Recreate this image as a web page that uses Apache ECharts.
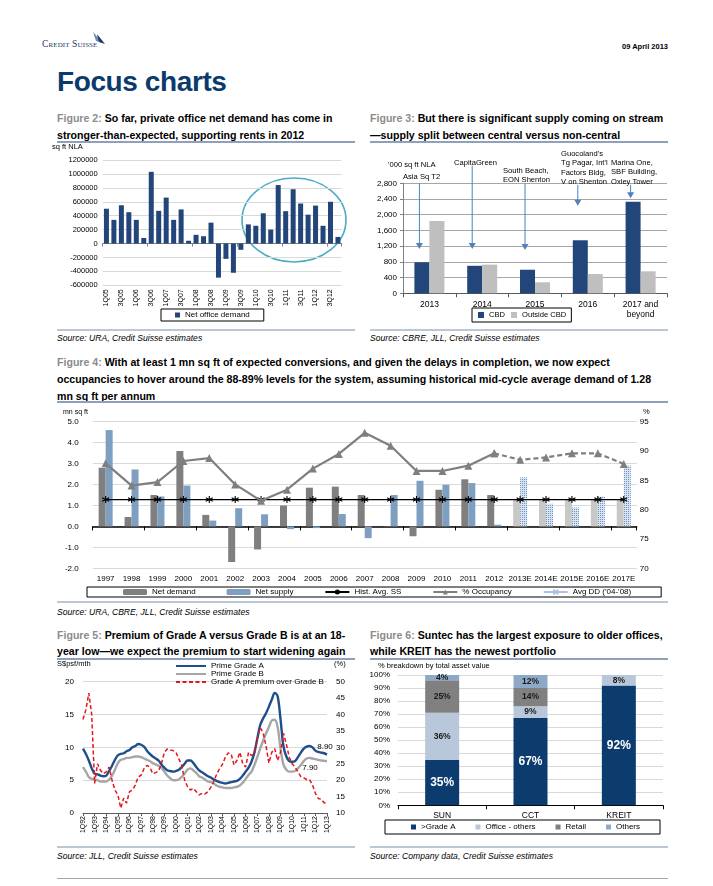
<!DOCTYPE html>
<html><head><meta charset="utf-8">
<script src="https://cdn.jsdelivr.net/npm/echarts@6/dist/echarts.min.js"></script>
<style>
html,body{margin:0;padding:0;background:#fff;}
body{width:713px;height:886px;position:relative;overflow:hidden;font-family:"Liberation Sans",Arial,sans-serif;color:#000;}
.abs{position:absolute;white-space:nowrap;}
.ftitle{position:absolute;font-weight:bold;font-size:10.6px;line-height:16.5px;color:#000;white-space:nowrap;}
.ftitle .fn{color:#8c8c8c;}
.rule{position:absolute;height:2px;background:#8da2ba;}
.sep{position:absolute;height:1.5px;background:#bcc7d4;}
.src{position:absolute;font-style:italic;font-size:8.6px;line-height:10px;white-space:nowrap;}
.chart{position:absolute;}
</style></head><body>

<div class="abs" style="left:42px;top:38px;font-family:'Liberation Serif','DejaVu Serif',serif;font-variant:small-caps;font-size:9.6px;color:#1d3a68;letter-spacing:0.1px;">Credit Suisse</div>
<svg class="abs" style="left:92px;top:32px" width="14" height="14"><polygon points="1,0 11,11 4,9" fill="#6a8db5"/><polygon points="5,2 13,12 7,10" fill="#1d3a68"/></svg>
<div class="abs" style="right:45px;top:42px;font-weight:bold;font-size:7.5px;">09 April 2013</div>
<div class="abs" style="left:57px;top:66px;font-weight:bold;font-size:28px;line-height:32px;color:#0b3a6d;letter-spacing:-0.4px;">Focus charts</div>

<div class="ftitle" style="left:57px;top:110px;"><span class="fn">Figure 2:</span> So far, private office net demand has come in<br>stronger-than-expected, supporting rents in 2012</div>
<div class="ftitle" style="left:370px;top:110px;"><span class="fn">Figure 3:</span> But there is significant supply coming on stream<br>—supply split between central versus non-central</div>
<div class="rule" style="left:57px;top:141px;width:298px;"></div>
<div class="rule" style="left:370px;top:141px;width:298px;"></div>

<div id="fig2" class="chart" style="left:50px;top:143px;width:305px;height:185px;"></div>
<div id="fig3" class="chart" style="left:365px;top:145px;width:310px;height:182px;"></div>

<div class="sep" style="left:57px;top:329px;width:298px;"></div>
<div class="sep" style="left:370px;top:329px;width:298px;"></div>
<div class="src" style="left:57px;top:333px;">Source: URA, Credit Suisse estimates</div>
<div class="src" style="left:370px;top:333px;">Source: CBRE, JLL, Credit Suisse estimates</div>

<div class="ftitle" style="left:57px;top:353.5px;line-height:17px;"><span class="fn">Figure 4:</span> With at least 1 mn sq ft of expected conversions, and given the delays in completion, we now expect<br>occupancies to hover around the 88-89% levels for the system, assuming historical mid-cycle average demand of 1.28<br>mn sq ft per annum</div>
<div class="rule" style="left:57px;top:401px;width:611px;"></div>
<div id="fig4" class="chart" style="left:50px;top:405px;width:630px;height:195px;"></div>
<div class="sep" style="left:57px;top:601px;width:611px;"></div>
<div class="src" style="left:57px;top:606.5px;">Source: URA, CBRE, JLL, Credit Suisse estimates</div>

<div class="ftitle" style="left:57px;top:628px;line-height:15.5px;"><span class="fn">Figure 5:</span> Premium of Grade A versus Grade B is at an 18-<br>year low—we expect the premium to start widening again</div>
<div class="ftitle" style="left:370px;top:628px;line-height:15.5px;"><span class="fn">Figure 6:</span> Suntec has the largest exposure to older offices,<br>while KREIT has the newest portfolio</div>
<div class="rule" style="left:57px;top:658px;width:298px;"></div>
<div class="rule" style="left:370px;top:658px;width:298px;"></div>
<div id="fig5" class="chart" style="left:50px;top:660px;width:310px;height:184px;"></div>
<div id="fig6" class="chart" style="left:365px;top:661px;width:310px;height:179px;"></div>
<div class="sep" style="left:57px;top:846px;width:298px;"></div>
<div class="sep" style="left:370px;top:846px;width:298px;"></div>
<div class="src" style="left:57px;top:851px;">Source: JLL, Credit Suisse estimates</div>
<div class="src" style="left:370px;top:851px;">Source: Company data, Credit Suisse estimates</div>
<div class="abs" style="left:57px;top:877.5px;width:611px;height:1.5px;background:#a6a6a6;"></div>

<script>
// ---------- Figure 2 data ----------
const fig2Quarters = ['1Q05','2Q05','3Q05','4Q05','1Q06','2Q06','3Q06','4Q06','1Q07','2Q07','3Q07','4Q07','1Q08','2Q08','3Q08','4Q08','1Q09','2Q09','3Q09','4Q09','1Q10','2Q10','3Q10','4Q10','1Q11','2Q11','3Q11','4Q11','1Q12','2Q12','3Q12','4Q12'];
const fig2NetDemand = [500000,340000,550000,450000,340000,80000,1030000,470000,660000,340000,490000,40000,125000,105000,300000,-490000,-220000,-420000,-90000,275000,255000,435000,200000,840000,465000,780000,575000,415000,545000,255000,600000,95000];
const fig2YTicks = {min:-600000, max:1200000, step:200000};

// ---------- Figure 3 data ----------
const fig3Years = ['2013','2014','2015','2016','2017 and\nbeyond'];
const fig3CBD = [790,700,600,1350,2330];
const fig3OutsideCBD = [1840,730,280,490,560];
const fig3Projects = ['Asia Sq T2','CapitaGreen','South Beach,\nEON Shenton',"Guocoland's\nTg Pagar, Int'l\nFactors Bldg,\nV on Shenton",'Marina One,\nSBF Building,\nOxley Tower'];
const fig3ArrowFrom = [2800,3250,2800,2760,2760];
const fig3ArrowTo = [1130,1130,1100,2230,2420];

// ---------- Figure 4 data ----------
const fig4Years = ['1997','1998','1999','2000','2001','2002','2003','2004','2005','2006','2007','2008','2009','2010','2011','2012','2013E','2014E','2015E','2016E','2017E'];
const fig4NetDemand = [2.8,0.45,1.5,3.6,0.55,-1.7,-1.1,1.0,1.85,1.9,1.5,0.02,-0.47,1.75,2.25,1.5,1.28,1.28,1.28,1.28,1.28];
const fig4NetSupply = [4.6,2.72,1.43,1.95,0.28,0.87,0.58,-0.13,-0.08,0.59,-0.56,1.5,2.18,1.99,2.07,0.08,2.34,1.08,0.9,1.43,2.9];
const fig4HistAvgSS = [1.28,1.28,1.28,1.28,1.28,1.28,1.28,1.28,1.28,1.28,1.28,1.28,1.28,1.28,1.28,1.28,1.28,1.28,1.28,1.28,1.28];
const fig4Occupancy = [87.9,84.1,84.7,88.3,88.8,84.3,81.5,83.4,87.0,89.5,93.1,90.9,86.6,86.6,87.5,89.6,88.5,88.9,89.6,89.6,87.8];

// ---------- Figure 5 data ----------
const fig5Quarters = ['1Q92','2Q92','3Q92','4Q92','1Q93','2Q93','3Q93','4Q93','1Q94','2Q94','3Q94','4Q94','1Q95','2Q95','3Q95','4Q95','1Q96','2Q96','3Q96','4Q96','1Q97','2Q97','3Q97','4Q97','1Q98','2Q98','3Q98','4Q98','1Q99','2Q99','3Q99','4Q99','1Q00','2Q00','3Q00','4Q00','1Q01','2Q01','3Q01','4Q01','1Q02','2Q02','3Q02','4Q02','1Q03','2Q03','3Q03','4Q03','1Q04','2Q04','3Q04','4Q04','1Q05','2Q05','3Q05','4Q05','1Q06','2Q06','3Q06','4Q06','1Q07','2Q07','3Q07','4Q07','1Q08','2Q08','3Q08','4Q08','1Q09','2Q09','3Q09','4Q09','1Q10','2Q10','3Q10','4Q10','1Q11','2Q11','3Q11','4Q11','1Q12','2Q12','3Q12','4Q12','1Q13'];
const fig5GradeA = [9.8,9.0,8.0,6.8,6.0,5.9,5.7,5.6,5.7,6.4, 7.2,8.1,8.8,9.0,9.1,9.4,9.6,10.0,10.2,10.5, 10.4,10.1,9.5,9.0,8.6,8.3,8.0,7.4,6.9,6.5, 6.4,6.3,6.4,6.6,7.0,7.5,8.0,8.0,7.6,7.0, 6.5,6.2,5.9,5.6,5.4,5.1,4.9,4.7,4.6,4.5, 4.6,4.7,4.8,4.9,5.2,5.7,6.3,6.9,7.8,9.2, 11.3,13.4,14.4,15.2,16.2,17.3,18.3,17.8,14.3,10.2, 8.6,7.9,7.8,7.9,8.5,9.2,9.8,10.1,10.2,10.0, 9.5,9.3,9.2,9.1,8.9];
const fig5GradeB = [7.0,6.3,5.5,5.2,5.1,5.0,4.8,4.8,4.8,5.1, 5.7,6.6,7.6,8.1,8.2,8.4,8.4,8.5,8.6,8.6, 8.5,8.3,8.1,7.9,7.6,7.4,7.2,6.9,6.3,5.7, 5.3,5.0,5.0,5.1,5.5,6.0,6.6,6.8,6.5,6.1, 5.6,5.4,5.1,4.8,4.7,4.5,4.2,4.0,3.9,3.8, 3.8,3.8,3.9,4.0,4.2,4.6,5.2,5.8,6.3,7.3, 8.5,9.8,11.0,12.1,13.1,14.1,14.2,13.1,9.8,7.4, 6.6,6.3,6.3,6.4,6.8,7.3,7.9,8.3,8.4,8.3, 8.2,8.1,8.0,7.95,7.9];
const fig5Premium = [38.5,41.5,46.5,40.0,19.0,25.0,23.0,22.0,22.5,24.0, 20.0,17.0,15.5,11.5,14.5,13.0,16.5,17.0,18.5,21.0, 21.5,23.5,24.5,24.0,22.0,22.3,22.8,25.0,28.5,29.5, 29.2,29.0,28.5,26.5,24.5,20.0,18.0,17.0,17.5,16.5, 15.5,16.0,15.8,16.5,17.8,19.5,21.8,23.5,24.8,27.0, 28.3,28.0,24.6,26.0,28.5,25.0,24.0,28.5,27.5,28.0, 32.6,36.0,34.5,30.5,25.2,28.5,29.6,26.0,28.5,34.3, 31.0,27.0,25.0,24.0,22.5,21.1,20.7,20.2,20.2,18.5, 16.0,14.4,14.2,13.1,12.8];

// ---------- Figure 6 data ----------
const fig6Trusts = ['SUN','CCT','KREIT'];
const fig6GradeA = [35,67,92];
const fig6OfficeOthers = [36,9,8];
const fig6Retail = [25,14,null];
const fig6Others = [4,12,null];

const FONT = '"Liberation Sans", Arial, sans-serif';
const txt = (size, extra) => Object.assign({fontSize:size, fontFamily:FONT, color:'#000'}, extra||{});

// ================= Figure 2 =================
const c2 = echarts.init(document.getElementById('fig2'));
c2.setOption({
  animation:false,
  grid:{left:52.7, right:13.3, top:17, bottom:42.7, outerBoundsMode:'none'},
  xAxis:[
    {type:'category', data:fig2Quarters, axisLine:{show:false,onZero:false}, axisTick:{show:false},
     axisLabel:Object.assign({rotate:90, interval:1, margin:4}, txt(7))},
    {type:'category', data:fig2Quarters, position:'top', axisLine:{onZero:true, lineStyle:{color:'#7f7f7f',width:1}},
     axisTick:{show:true, inside:true, length:3, lineStyle:{color:'#7f7f7f'}}, axisLabel:{show:false}, splitLine:{show:false}}
  ],
  yAxis:{type:'value', min:fig2YTicks.min, max:fig2YTicks.max, interval:fig2YTicks.step,
    axisLine:{show:false}, axisTick:{show:false}, axisLabel:Object.assign({margin:5, formatter:v=>String(v)}, txt(7.5)),
    splitLine:{lineStyle:{color:'#d9d9d9', width:1}}},
  legend:{data:['Net office demand'], left:111, top:166, padding:[2,14,2,14], borderColor:'#000', borderWidth:1,
    icon:'rect', itemWidth:5, itemHeight:5, itemGap:6, textStyle:txt(8)},
  series:[{name:'Net office demand', type:'bar', data:fig2NetDemand, barWidth:5, itemStyle:{color:'#22467a'}}],
  graphic:[
    {type:'text', left:2, top:0, style:{text:'sq ft NLA', fontSize:7.5, fontFamily:FONT, fill:'#000'}},
    {type:'ellipse', shape:{cx:244, cy:77, rx:52, ry:42}, style:{fill:null, stroke:'#4bacc6', lineWidth:1.6}, silent:true}
  ]
});

// ================= Figure 3 =================
const c3 = echarts.init(document.getElementById('fig3'));
c3.setOption({
  animation:false,
  grid:{left:38, right:8, top:38.3, bottom:33.7, outerBoundsMode:'none'},
  xAxis:{type:'category', data:fig3Years, axisLine:{lineStyle:{color:'#595959'}},
    axisTick:{show:true, length:4, lineStyle:{color:'#595959'}},
    axisLabel:Object.assign({margin:6, lineHeight:10}, txt(8.5))},
  yAxis:{type:'value', min:0, max:2800, interval:400,
    axisLine:{show:true, lineStyle:{color:'#7f7f7f'}}, axisTick:{show:true, length:3, lineStyle:{color:'#7f7f7f'}},
    axisLabel:Object.assign({margin:6, formatter:v=>v.toLocaleString('en-US')}, txt(8)),
    splitLine:{lineStyle:{color:'#a6a6a6', width:1}}},
  legend:{data:['CBD','Outside CBD'], left:107, top:163, padding:[3,5,3,6], borderColor:'#000', borderWidth:1,
    icon:'rect', itemWidth:6, itemHeight:6, itemGap:6, textStyle:txt(7.6)},
  series:[
    {name:'CBD', type:'bar', data:fig3CBD, barWidth:15, barGap:'0%', itemStyle:{color:'#22467a'}},
    {name:'Outside CBD', type:'bar', data:fig3OutsideCBD, barWidth:15, barGap:'0%', itemStyle:{color:'#bfbfbf'}}
  ]
});
(function(){
  const g = [];
  const ts = {fontSize:7.6, fontFamily:FONT, fill:'#000', lineHeight:9.3};
  g.push({type:'text', left:23, top:15.5, style:Object.assign({text:"'000 sq ft NLA"}, ts)});
  const labelPos = [[38,27.5],[89,13.5],[138,21.3],[196,4.3],[246,13.3]];
  fig3Projects.forEach((t,i)=>{
    g.push({type:'text', x:labelPos[i][0], y:labelPos[i][1], style:Object.assign({text:t}, ts)});
    const p1 = c3.convertToPixel({xAxisIndex:0, yAxisIndex:0}, [i, fig3ArrowFrom[i]]);
    const p2 = c3.convertToPixel({xAxisIndex:0, yAxisIndex:0}, [i, fig3ArrowTo[i]]);
    const x = p1[0] - 10;
    g.push({type:'line', shape:{x1:x, y1:p1[1], x2:x, y2:p2[1]-5}, style:{stroke:'#4f81bd', lineWidth:1}});
    g.push({type:'polygon', shape:{points:[[x-3.5,p2[1]-6],[x+3.5,p2[1]-6],[x,p2[1]]]}, style:{fill:'#4f81bd'}});
  });
  c3.setOption({graphic:g});
})();

// ================= Figure 4 =================
const c4 = echarts.init(document.getElementById('fig4'));
const isF = y => y.endsWith('E');
const asterisk = 'path://M0,2.5L10,7.5M0,7.5L10,2.5M5,0L5,10';
const xMark = 'path://M0,0L10,10M10,0L0,10';
const occSolid = fig4Occupancy.map((v,i)=> isF(fig4Years[i]) ? null : v);
const occDash = fig4Occupancy.map((v,i)=> (isF(fig4Years[i]) || (i+1<fig4Years.length && isF(fig4Years[i+1]))) ? v : null);
c4.setOption({
  animation:false,
  grid:{left:42.7, right:43.3, top:16.7, bottom:31.7, outerBoundsMode:'none'},
  xAxis:[
    {type:'category', data:fig4Years, axisLine:{show:false,onZero:false}, axisTick:{show:false},
     axisLabel:Object.assign({margin:6, interval:0}, txt(8))},
    {type:'category', data:fig4Years, position:'top', axisLine:{onZero:true, lineStyle:{color:'#000', width:1.5}},
     axisTick:{show:true, inside:true, length:4, lineStyle:{color:'#000'}}, axisLabel:{show:false}, splitLine:{show:false}}
  ],
  yAxis:[
    {type:'value', min:-2, max:5, interval:1, axisLine:{show:false}, axisTick:{show:false},
     axisLabel:Object.assign({margin:14, formatter:v=>v.toFixed(1)}, txt(8)),
     splitLine:{lineStyle:{color:'#d9d9d9', width:1}}},
    {type:'value', min:70, max:95, interval:5, position:'right', axisLine:{show:false}, axisTick:{show:false},
     axisLabel:Object.assign({margin:3}, txt(8)), splitLine:{show:false}}
  ],
  legend:{data:['Net demand','Net supply','Hist. Avg. SS','% Occupancy',"Avg DD ('04-'08)"],
    left:37, top:182, padding:[1,30,1,36], borderColor:'#000', borderWidth:1,
    itemWidth:24, itemHeight:6, itemGap:31, textStyle:txt(8)},
  series:[
    {name:'Net demand', type:'bar', barWidth:7, barGap:'0%',
     data:fig4NetDemand.map((v,i)=> isF(fig4Years[i]) ? {value:v, itemStyle:{color:'#c8c8c8'}} : v),
     itemStyle:{color:'#7f7f7f'}},
    {name:'Net supply', type:'bar', barWidth:7, barGap:'0%',
     data:fig4NetSupply.map((v,i)=> isF(fig4Years[i]) ? {value:v, itemStyle:{color:'#dae4f0', decal:{symbol:'rect', symbolSize:1, dashArrayX:[1,1], dashArrayY:[1,1], color:'#6e93c2'}}} : v),
     itemStyle:{color:'#7f9fc0'}},
    {name:'Hist. Avg. SS', type:'line', data:fig4HistAvgSS, symbol:asterisk, symbolSize:7, showAllSymbol:true,
     lineStyle:{color:'#000', width:1.2}, itemStyle:{color:'#000', borderColor:'#000', borderWidth:1.1}, z:5},
    {name:'% Occupancy', type:'line', yAxisIndex:1, data:occSolid, symbol:'triangle', symbolSize:8,
     lineStyle:{color:'#7f7f7f', width:2.2}, itemStyle:{color:'#7f7f7f'}, z:6},
    {name:'% Occupancy', type:'line', yAxisIndex:1, data:occDash, symbol:'triangle', symbolSize:8,
     lineStyle:{color:'#7f7f7f', width:2.2, type:[5,3]}, itemStyle:{color:'#7f7f7f'}, z:6},
    {name:"Avg DD ('04-'08)", type:'line', data:[], symbol:xMark, symbolSize:6,
     lineStyle:{color:'#a9c4e4', width:1}, itemStyle:{color:'#a9c4e4', borderColor:'#a9c4e4', borderWidth:1}}
  ],
  graphic:[
    {type:'text', left:13, top:4, style:{text:'mn sq ft', fontSize:7, fontFamily:FONT, fill:'#000'}},
    {type:'text', left:593, top:3, style:{text:'%', fontSize:7.5, fontFamily:FONT, fill:'#000'}}
  ]
});

// ================= Figure 5 =================
const c5 = echarts.init(document.getElementById('fig5'));
c5.setOption({
  animation:false,
  grid:{left:33, right:33, top:21.7, bottom:31, outerBoundsMode:'none'},
  xAxis:{type:'category', data:fig5Quarters, boundaryGap:false,
    axisLine:{lineStyle:{color:'#595959'}}, axisTick:{show:true, interval:3, length:3, lineStyle:{color:'#595959'}},
    axisLabel:Object.assign({rotate:90, interval:3, margin:3}, txt(7))},
  yAxis:[
    {type:'value', min:0, max:20, interval:5, axisLine:{show:false}, axisTick:{show:false},
     axisLabel:Object.assign({margin:9}, txt(8)), splitLine:{lineStyle:{color:'#d9d9d9'}}},
    {type:'value', min:10, max:50, interval:5, position:'right', axisLine:{show:false}, axisTick:{show:false},
     axisLabel:Object.assign({margin:9}, txt(8)), splitLine:{show:false}}
  ],
  legend:{data:['Prime Grade A','Prime Grade B','Grade A premium over Grade B'], orient:'vertical',
    left:125, top:2, padding:0, itemWidth:30, itemHeight:7, itemGap:0,
    itemStyle:{opacity:0},
    textStyle:txt(8, {lineHeight:7})},
  series:[
    {name:'Prime Grade A', type:'line', data:fig5GradeA, symbol:'none', smooth:0.35,
     lineStyle:{color:'#1f4e8c', width:2.4}, itemStyle:{color:'#1f4e8c'}, z:4,
     markPoint:{symbol:'circle', symbolSize:1, itemStyle:{color:'rgba(0,0,0,0)'},
       label:{show:true, offset:[-2,-8], fontSize:8, fontFamily:FONT, color:'#000', formatter:p=>Number(p.value).toFixed(2)},
       data:[{coord:[fig5Quarters.length-1, fig5GradeA[fig5GradeA.length-1]], value:fig5GradeA[fig5GradeA.length-1]}]}},
    {name:'Prime Grade B', type:'line', data:fig5GradeB, symbol:'none', smooth:0.35,
     lineStyle:{color:'#a6a6a6', width:2.4}, itemStyle:{color:'#a6a6a6'}, z:3,
     markPoint:{symbol:'circle', symbolSize:1, itemStyle:{color:'rgba(0,0,0,0)'},
       label:{show:true, offset:[-17,7], fontSize:8, fontFamily:FONT, color:'#000', formatter:p=>Number(p.value).toFixed(2)},
       data:[{coord:[fig5Quarters.length-1, fig5GradeB[fig5GradeB.length-1]], value:fig5GradeB[fig5GradeB.length-1]}]}},
    {name:'Grade A premium over Grade B', type:'line', yAxisIndex:1, data:fig5Premium, symbol:'none',
     lineStyle:{color:'#e3161c', width:1.5, type:[4,2.5]}, itemStyle:{color:'#e3161c'}, z:5}
  ],
  graphic:[
    {type:'text', left:7, top:0, style:{text:'S$psf/mth', fontSize:7.5, fontFamily:FONT, fill:'#000'}},
    {type:'text', left:284, top:0, style:{text:'(%)', fontSize:7.5, fontFamily:FONT, fill:'#000'}}
  ]
});

// ================= Figure 6 =================
const c6 = echarts.init(document.getElementById('fig6'));
const lblSmall = {show:true, position:'inside', fontSize:8.5, fontWeight:'bold', fontFamily:FONT, color:'#1a1a1a', formatter:'{c}%'};
c6.setOption({
  animation:false,
  grid:{left:33, right:12, top:14, bottom:34.7, outerBoundsMode:'none'},
  xAxis:{type:'category', data:fig6Trusts, axisLine:{lineStyle:{color:'#000'}},
    axisTick:{show:true, length:4, lineStyle:{color:'#000'}}, axisLabel:Object.assign({margin:6}, txt(8.5))},
  yAxis:{type:'value', min:0, max:100, interval:10, axisLine:{show:false}, axisTick:{show:false},
    axisLabel:Object.assign({margin:8, formatter:'{value}%'}, txt(8)), splitLine:{lineStyle:{color:'#d9d9d9'}}},
  legend:{data:['>Grade A','Office - others','Retail','Others'], left:20, top:159, padding:[3,20,3,26],
    borderColor:'#000', borderWidth:1, icon:'rect', itemWidth:5, itemHeight:5, itemGap:20, textStyle:txt(8)},
  series:[
    {name:'>Grade A', type:'bar', stack:'s', data:fig6GradeA, barWidth:34, itemStyle:{color:'#0c3b6e'},
     label:{show:true, position:'inside', fontSize:12, fontWeight:'bold', fontFamily:FONT, color:'#fff', formatter:'{c}%'}},
    {name:'Office - others', type:'bar', stack:'s', data:fig6OfficeOthers, barWidth:34, itemStyle:{color:'#b8c7d9'}, label:lblSmall},
    {name:'Retail', type:'bar', stack:'s', data:fig6Retail, barWidth:34, itemStyle:{color:'#808080'}, label:lblSmall},
    {name:'Others', type:'bar', stack:'s', data:fig6Others, barWidth:34, itemStyle:{color:'#8ea9c8'}, label:lblSmall}
  ],
  graphic:[
    {type:'text', left:13, top:1, style:{text:'% breakdown by total asset value', fontSize:7.5, fontFamily:FONT, fill:'#000'}}
  ]
});
</script>
</body></html>
